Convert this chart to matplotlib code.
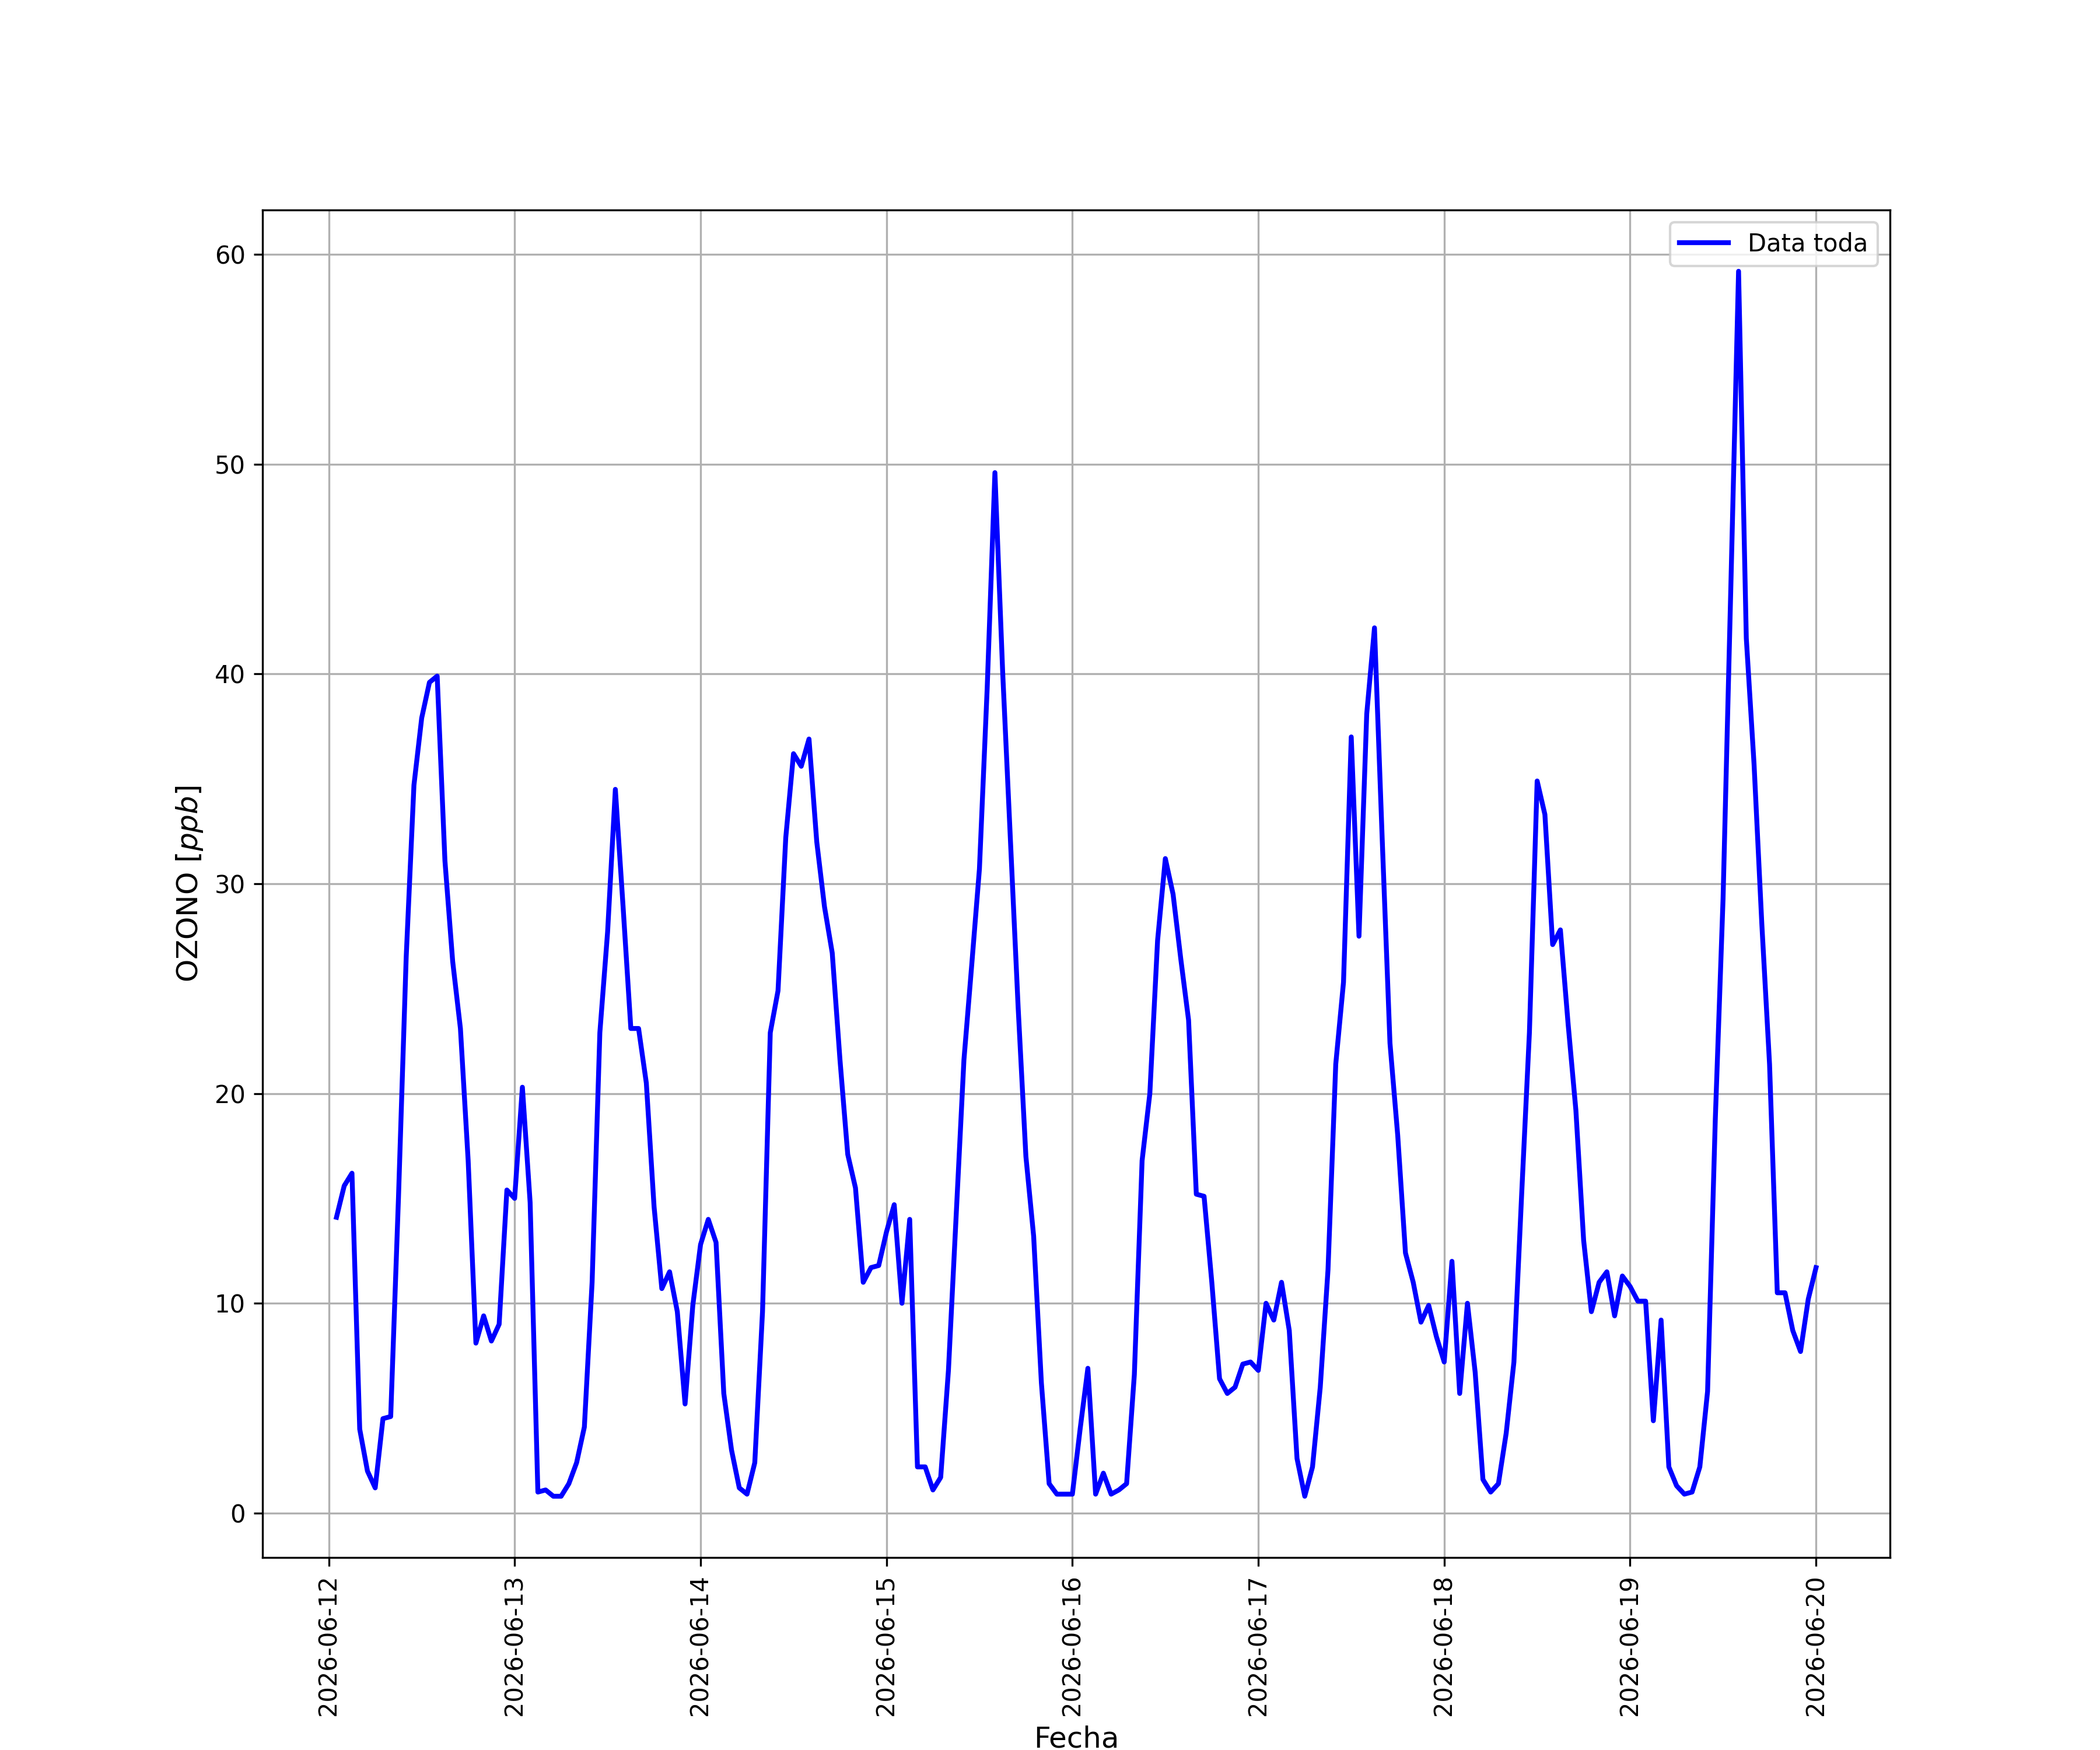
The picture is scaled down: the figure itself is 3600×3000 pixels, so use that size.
import numpy as np
import pandas as pd
import matplotlib
matplotlib.use("Agg")
import matplotlib.pyplot as plt
import matplotlib.dates as mdates

# hourly ozone readings, 2026-06-12 01:00 .. 2026-06-20 00:00 (ppb)
day1 = [14.1, 15.6, 16.2, 4.0, 2.0, 1.2, 4.5, 4.6, 15.0, 26.5, 34.7, 37.9,
        39.6, 39.9, 31.1, 26.3, 23.1, 16.8, 8.1, 9.4, 8.2, 9.0, 15.4, 15.0]
day2 = [20.3, 14.8, 1.0, 1.1, 0.8, 0.8, 1.4, 2.4, 4.1, 11.0, 22.9, 27.7,
        34.5, 28.9, 23.1, 23.1, 20.5, 14.6, 10.7, 11.5, 9.6, 5.2, 9.9, 12.8]
day3 = [14.0, 12.9, 5.7, 3.0, 1.2, 0.9, 2.4, 9.6, 22.9, 24.9, 32.2, 36.2,
        35.6, 36.9, 32.0, 28.9, 26.7, 21.6, 17.1, 15.5, 11.0, 11.7, 11.8, 13.4]
day4 = [14.7, 10.0, 14.0, 2.2, 2.2, 1.1, 1.7, 6.8, 14.2, 21.6, 26.1, 30.7,
        39.3, 49.6, 40.1, 32.1, 24.1, 17.0, 13.2, 6.2, 1.4, 0.9, 0.9, 0.9]
day5 = [4.0, 6.9, 0.9, 1.9, 0.9, 1.1, 1.4, 6.6, 16.8, 20.0, 27.3, 31.2,
        29.5, 26.4, 23.5, 15.2, 15.1, 11.0, 6.4, 5.7, 6.0, 7.1, 7.2, 6.8]
day6 = [10.0, 9.2, 11.0, 8.7, 2.6, 0.8, 2.2, 6.0, 11.6, 21.4, 25.3, 37.0,
        27.5, 38.1, 42.2, 32.1, 22.4, 18.0, 12.4, 11.0, 9.1, 9.9, 8.4, 7.2]
day7 = [12.0, 5.7, 10.0, 6.7, 1.6, 1.0, 1.4, 3.8, 7.2, 15.2, 22.9, 34.9,
        33.3, 27.1, 27.8, 23.3, 19.2, 13.0, 9.6, 11.0, 11.5, 9.4, 11.3, 10.8]
day8 = [10.1, 10.1, 4.4, 9.2, 2.2, 1.3, 0.9, 1.0, 2.2, 5.8, 18.8, 29.3,
        44.1, 59.2, 41.7, 35.7, 28.1, 21.4, 10.5, 10.5, 8.7, 7.7, 10.2, 11.7]

ozono = day1 + day2 + day3 + day4 + day5 + day6 + day7 + day8
fechas = pd.date_range("2026-06-12 01:00", periods=len(ozono), freq="h")

fig, ax = plt.subplots(figsize=(12, 10))
ax.plot(fechas, ozono, color="blue", lw=2, label="Data toda")
ax.set_xlabel("Fecha", fontsize=12)
ax.set_ylabel("OZONO [$ppb$]", fontsize=12)
ax.xaxis.set_major_locator(mdates.DayLocator())
ax.xaxis.set_major_formatter(mdates.DateFormatter("%Y-%m-%d"))
plt.setp(ax.get_xticklabels(), rotation=90)
ax.grid(True)
ax.legend(loc="upper right")
fig.savefig("out.png", dpi=300)
